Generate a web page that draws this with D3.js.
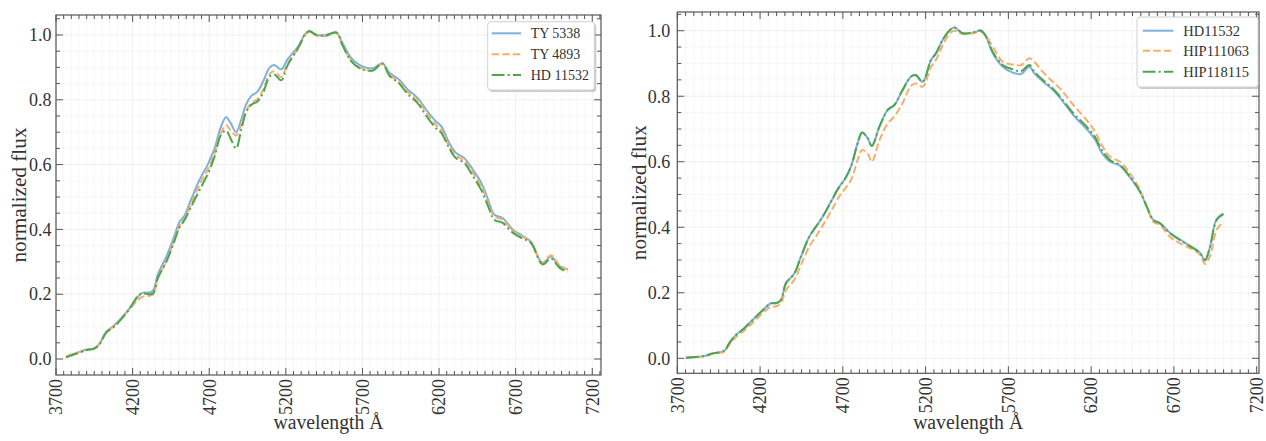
<!DOCTYPE html>
<html><head><meta charset="utf-8">
<script src="https://cdn.jsdelivr.net/npm/d3@7"></script>
<style>
body{margin:0;background:#fff}
svg{display:block}
text{font-family:"Liberation Serif","Times New Roman",serif;fill:#333}
</style>
</head><body>
<svg id="c" width="1266" height="441"></svg>
<script>
// ---------- data ----------
const leftWavelength = [3765,3830,3905,3950,3985,4025,4080,4125,4180,4235,4265,4310,4335,4365,4420,4470,4505,4540,4580,4635,4690,4735,4775,4810,4840,4875,4910,4940,4975,5015,5050,5095,5125,5170,5210,5280,5330,5355,5400,5460,5530,5570,5625,5680,5765,5830,5875,5940,5995,6060,6115,6180,6215,6265,6310,6365,6420,6475,6520,6560,6615,6680,6745,6800,6875,6930,6985,7040];
const leftTY5338 = [0.007,0.018,0.030,0.033,0.048,0.082,0.104,0.126,0.156,0.192,0.204,0.205,0.212,0.262,0.316,0.376,0.422,0.444,0.490,0.551,0.600,0.650,0.715,0.746,0.728,0.700,0.740,0.785,0.812,0.825,0.855,0.900,0.907,0.894,0.924,0.964,1.005,1.010,1.000,1.000,1.007,0.975,0.930,0.908,0.897,0.913,0.884,0.862,0.832,0.806,0.770,0.733,0.718,0.668,0.637,0.620,0.585,0.544,0.492,0.446,0.435,0.400,0.380,0.362,0.295,0.316,0.287,0.277];
const leftTY4893 = [0.008,0.018,0.029,0.033,0.047,0.080,0.102,0.124,0.153,0.183,0.192,0.195,0.200,0.250,0.302,0.365,0.410,0.435,0.478,0.535,0.585,0.635,0.695,0.722,0.705,0.690,0.725,0.765,0.790,0.802,0.830,0.880,0.888,0.870,0.910,0.958,1.002,1.010,0.998,0.997,1.005,0.968,0.922,0.900,0.890,0.910,0.878,0.855,0.825,0.798,0.762,0.722,0.706,0.658,0.628,0.612,0.575,0.532,0.484,0.440,0.430,0.396,0.378,0.360,0.298,0.320,0.290,0.275];
const leftHD11532 = [0.005,0.016,0.028,0.032,0.046,0.080,0.100,0.122,0.155,0.195,0.203,0.200,0.203,0.250,0.300,0.360,0.405,0.430,0.468,0.520,0.570,0.625,0.690,0.705,0.680,0.650,0.710,0.760,0.785,0.795,0.820,0.872,0.878,0.860,0.905,0.960,1.005,1.012,1.000,0.998,1.008,0.968,0.920,0.898,0.890,0.912,0.875,0.850,0.818,0.790,0.752,0.712,0.698,0.652,0.620,0.605,0.565,0.522,0.472,0.430,0.420,0.390,0.372,0.358,0.292,0.310,0.282,0.268];

const rightWavelength = [3752,3863,3913,3984,4014,4054,4105,4155,4216,4266,4296,4326,4356,4407,4447,4497,4538,4578,4628,4679,4709,4749,4789,4816,4850,4875,4921,4971,5011,5061,5112,5142,5182,5233,5263,5303,5343,5374,5424,5484,5535,5565,5605,5666,5726,5776,5827,5857,5907,5968,6012,6093,6173,6223,6264,6314,6374,6435,6495,6536,6576,6616,6676,6737,6817,6858,6888,6918,6958,6999];
const rightHD11532 = [0.002,0.007,0.015,0.023,0.046,0.071,0.092,0.117,0.147,0.168,0.168,0.178,0.229,0.259,0.310,0.371,0.402,0.432,0.478,0.524,0.544,0.585,0.656,0.689,0.672,0.648,0.707,0.758,0.773,0.819,0.860,0.864,0.844,0.911,0.931,0.972,1.000,1.010,0.992,0.994,1.000,0.982,0.932,0.890,0.872,0.868,0.890,0.870,0.846,0.820,0.795,0.742,0.700,0.668,0.628,0.600,0.588,0.552,0.508,0.463,0.422,0.413,0.383,0.362,0.337,0.322,0.298,0.340,0.425,0.442];
const rightHIP111063 = [0.002,0.006,0.013,0.021,0.042,0.065,0.085,0.108,0.138,0.158,0.158,0.168,0.208,0.240,0.285,0.341,0.372,0.405,0.448,0.495,0.515,0.544,0.605,0.636,0.625,0.600,0.665,0.717,0.738,0.779,0.832,0.839,0.829,0.890,0.911,0.955,0.990,1.000,0.990,0.992,0.997,0.985,0.951,0.905,0.897,0.895,0.916,0.905,0.875,0.844,0.824,0.773,0.727,0.692,0.651,0.615,0.600,0.564,0.514,0.463,0.417,0.407,0.371,0.351,0.331,0.316,0.288,0.312,0.392,0.417];
const rightHIP118115 = [0.002,0.007,0.015,0.023,0.046,0.071,0.092,0.117,0.147,0.168,0.168,0.178,0.229,0.259,0.310,0.371,0.402,0.432,0.478,0.524,0.544,0.585,0.656,0.689,0.672,0.648,0.707,0.758,0.773,0.819,0.860,0.864,0.844,0.911,0.931,0.972,1.000,1.010,0.992,0.994,1.000,0.982,0.936,0.895,0.882,0.876,0.895,0.875,0.850,0.824,0.799,0.748,0.707,0.676,0.636,0.605,0.590,0.554,0.509,0.463,0.422,0.412,0.382,0.361,0.336,0.321,0.300,0.341,0.422,0.440];

const xTickLabels = [3700,4200,4700,5200,5700,6200,6700,7200];
const yTickLabels = [0.0,0.2,0.4,0.6,0.8,1.0];
const leftNames = ["TY 5338","TY 4893","HD 11532"];
const rightNames = ["HD11532","HIP111063","HIP118115"];

// ---------- styles ----------
const colors = ["#7eb0dd","#f9ad6b","#4da64d"];
const dashes = [null,"7.4,3.2","12.8,3.2,2,3.2"];

const svg = d3.select("#c");

function panel(cfg, id){
  const g = svg.append("g");
  const x = d3.scaleLinear().domain(cfg.xDomain).range([cfg.x0, cfg.x1]);
  const y = d3.scaleLinear().domain(cfg.yDomain).range([cfg.y1, cfg.y0]);

  const xMinor = d3.range(3700, cfg.xDomain[1]+1, 50).filter(v => (v-3700)%500 !== 0);
  const yMinor = d3.range(0, 1.0601, 0.05).map(v=>+v.toFixed(2)).filter(v => Math.round(v*100)%20 !== 0);

  // grid
  const grid = g.append("g");
  grid.selectAll(".gxm").data(xMinor).join("line")
    .attr("x1", d=>x(d)).attr("x2", d=>x(d)).attr("y1", cfg.y0).attr("y2", cfg.y1)
    .attr("stroke", "#f5f5f5").attr("stroke-width", 0.8);
  grid.selectAll(".gym").data(yMinor).join("line")
    .attr("y1", d=>y(d)).attr("y2", d=>y(d)).attr("x1", cfg.x0).attr("x2", cfg.x1)
    .attr("stroke", "#f5f5f5").attr("stroke-width", 0.8);
  grid.selectAll(".gx").data(xTickLabels).join("line")
    .attr("x1", d=>x(d)).attr("x2", d=>x(d)).attr("y1", cfg.y0).attr("y2", cfg.y1)
    .attr("stroke", "#ececec").attr("stroke-width", 0.8);
  grid.selectAll(".gy").data(yTickLabels).join("line")
    .attr("y1", d=>y(d)).attr("y2", d=>y(d)).attr("x1", cfg.x0).attr("x2", cfg.x1)
    .attr("stroke", "#ececec").attr("stroke-width", 0.8);

  // clip
  svg.append("defs").append("clipPath").attr("id", "clip"+id)
    .append("rect").attr("x", cfg.x0).attr("y", cfg.y0).attr("width", cfg.x1-cfg.x0).attr("height", cfg.y1-cfg.y0);

  const line = d3.line().x(d=>x(d[0])).y(d=>y(d[1])).curve(d3.curveCatmullRom.alpha(0.5));
  const lines = g.append("g").attr("clip-path", `url(#clip${id})`);
  cfg.series.forEach((s,i)=>{
    const pts = cfg.wl.map((w,k)=>[w, s[k]]);
    lines.append("path").attr("d", line(pts)).attr("fill","none")
      .attr("stroke", colors[i]).attr("stroke-width", 2)
      .attr("stroke-dasharray", dashes[i]);
  });

  // ticks (inward, all four sides)
  const tk = g.append("g").attr("stroke", "#555").attr("stroke-width", 1);
  const addX = (vals, len) => vals.forEach(v=>{
    tk.append("line").attr("x1", x(v)).attr("x2", x(v)).attr("y1", cfg.y1).attr("y2", cfg.y1-len);
    tk.append("line").attr("x1", x(v)).attr("x2", x(v)).attr("y1", cfg.y0).attr("y2", cfg.y0+len);
  });
  const addY = (vals, len) => vals.forEach(v=>{
    tk.append("line").attr("y1", y(v)).attr("y2", y(v)).attr("x1", cfg.x0).attr("x2", cfg.x0+len);
    tk.append("line").attr("y1", y(v)).attr("y2", y(v)).attr("x1", cfg.x1).attr("x2", cfg.x1-len);
  });
  addX(xMinor, 4); addX(xTickLabels, 7);
  addY(yMinor, 4); addY(yTickLabels, 7);

  // frame
  g.append("rect").attr("x", cfg.x0).attr("y", cfg.y0).attr("width", cfg.x1-cfg.x0).attr("height", cfg.y1-cfg.y0)
    .attr("fill","none").attr("stroke","#555").attr("stroke-width",1.2);

  // tick labels
  g.selectAll(".xl").data(xTickLabels).join("text")
    .attr("transform", d=>`translate(${x(d)},${cfg.y1+4}) rotate(-90)`)
    .attr("text-anchor","end").attr("dy","0.35em").attr("font-size", 18)
    .text(d=>d);
  g.selectAll(".yl").data(yTickLabels).join("text")
    .attr("x", cfg.x0 - cfg.yPad).attr("y", d=>y(d)).attr("dy","0.35em")
    .attr("text-anchor","end").attr("font-size", 18)
    .text(d=>d.toFixed(1));

  // axis labels
  g.append("text").attr("x", (cfg.x0+cfg.x1)/2).attr("y", 429).attr("text-anchor","middle")
    .attr("font-size", 20).attr("textLength", 110).attr("lengthAdjust","spacingAndGlyphs")
    .text("wavelength Å");
  g.append("text").attr("transform", `translate(${cfg.yLabelX},${(cfg.y0+cfg.y1)/2}) rotate(-90)`)
    .attr("text-anchor","middle").attr("dy","0.35em").attr("font-size", 20)
    .attr("textLength", 135).attr("lengthAdjust","spacingAndGlyphs")
    .text("normalized flux");

  // legend
  const L = cfg.legend;
  const lg = g.append("g");
  lg.append("rect").attr("x", L.x+2).attr("y", L.y+2).attr("width", L.w).attr("height", L.h)
    .attr("rx",3).attr("fill","#999").attr("opacity",0.5);
  lg.append("rect").attr("x", L.x).attr("y", L.y).attr("width", L.w).attr("height", L.h)
    .attr("rx",3).attr("fill","#fff").attr("stroke","#d0d0d0").attr("stroke-width",1);
  cfg.names.forEach((n,i)=>{
    const yy = L.rows[i];
    lg.append("line").attr("x1", L.lx0).attr("x2", L.lx1).attr("y1", yy).attr("y2", yy)
      .attr("stroke", colors[i]).attr("stroke-width", 2).attr("stroke-dasharray", dashes[i]);
    lg.append("text").attr("x", L.tx).attr("y", yy).attr("dy","0.35em")
      .attr("font-size", L.fs).text(n);
  });
}

panel({
  x0:56, x1:601, y0:15, y1:375,
  xDomain:[3700, 7257], yDomain:[-0.0494, 1.0617],
  wl:leftWavelength, series:[leftTY5338, leftTY4893, leftHD11532], names:leftNames,
  yPad:4.5, yLabelX:19,
  legend:{x:487.7, y:21.7, w:106.6, h:68.3, lx0:491.7, lx1:521, tx:530.7, rows:[33.3,54.3,75], fs:14}
}, 1);

panel({
  x0:677.3, x1:1259, y0:12, y1:373.3,
  xDomain:[3700, 7214], yDomain:[-0.0458, 1.0571],
  wl:rightWavelength, series:[rightHD11532, rightHIP111063, rightHIP118115], names:rightNames,
  yPad:7, yLabelX:638.5,
  legend:{x:1137, y:17, w:121, h:70, lx0:1142.7, lx1:1173.3, tx:1183.3, rows:[30.7,50.7,71.7], fs:14.5}
}, 2);
</script>
</body></html>
